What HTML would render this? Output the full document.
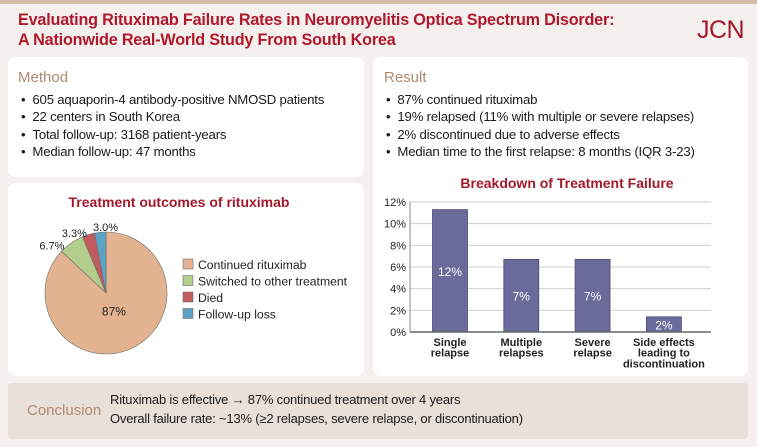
<!DOCTYPE html>
<html><head><meta charset="utf-8">
<style>
*{margin:0;padding:0;box-sizing:border-box}
body{width:757px;height:447px;overflow:hidden;background:#f5f0ed;font-family:"Liberation Sans",sans-serif;position:relative;color:#1a1a1a}
.abs{position:absolute}
.box{position:absolute;background:#fff;border-radius:8px}
.title{left:18px;top:11px;color:#b0182c;font-weight:bold;font-size:16.2px;line-height:19.5px;letter-spacing:-0.2px}
.hdr{color:#b08a6e;font-size:15px}
ul{list-style:none}
li{font-size:13.2px;line-height:17.4px;letter-spacing:-0.2px}
li:before{content:"•";margin-right:7px}
</style></head><body>
<div class="abs" style="left:0;top:0;width:757px;height:4px;background:#d6bba6"></div>
<div class="abs title">Evaluating Rituximab Failure Rates in Neuromyelitis Optica Spectrum Disorder:<br>A Nationwide Real-World Study From South Korea</div>
<div class="abs" style="left:697px;top:16px;color:#a3192b;font-size:25px;font-family:'Liberation Sans Narrow','Liberation Sans',sans-serif;letter-spacing:-0.5px">JCN</div>

<div class="box" style="left:8px;top:57px;width:356px;height:120px">
 <div class="abs hdr" style="left:10px;top:12px">Method</div>
 <ul class="abs" style="left:13px;top:34px">
  <li>605 aquaporin-4 antibody-positive NMOSD patients</li>
  <li>22 centers in South Korea</li>
  <li>Total follow-up: 3168 patient-years</li>
  <li>Median follow-up: 47 months</li>
 </ul>
</div>
<div class="box" style="left:373px;top:57px;width:375px;height:319px">
 <div class="abs hdr" style="left:11px;top:12px">Result</div>
 <ul class="abs" style="left:13px;top:34px">
  <li>87% continued rituximab</li>
  <li>19% relapsed (11% with multiple or severe relapses)</li>
  <li>2% discontinued due to adverse effects</li>
  <li>Median time to the first relapse: 8 months (IQR 3-23)</li>
 </ul>
</div>
<div class="box" style="left:8px;top:183px;width:356px;height:193px"></div>
<div class="abs" style="left:8px;top:383px;width:740px;height:56px;background:#eae0da;border-radius:4px">
 <div class="abs hdr" style="left:19px;top:19px">Conclusion</div>
 <div class="abs" style="left:102px;top:9px;font-size:13px;letter-spacing:-0.2px">Rituximab is effective → 87% continued treatment over 4 years</div>
 <div class="abs" style="left:102px;top:28px;font-size:13px;letter-spacing:-0.2px">Overall failure rate: ~13% (≥2 relapses, severe relapse, or discontinuation)</div>
</div>

<svg id="chart" class="abs" style="left:0;top:0" width="757" height="447" xmlns="http://www.w3.org/2000/svg" font-family="Liberation Sans, sans-serif"></svg>
<script>
const pieLabels=["Continued rituximab","Switched to other treatment","Died","Follow-up loss"];
const pieValues=[87,6.7,3.3,3.0];
const pieText=["87%","6.7%","3.3%","3.0%"];
const pieColors=["#e2b291","#b3cd8c","#c25b5d","#5da2c2"];
const barCats=[["Single","relapse"],["Multiple","relapses"],["Severe","relapse"],["Side effects","leading to","discontinuation"]];
const barValues=[11.3,6.7,6.7,1.4];
const barText=["12%","7%","7%","2%"];
const yTicks=[0,2,4,6,8,10,12];

const svg=document.getElementById('chart');
const NS="http://www.w3.org/2000/svg";
function mk(tag,a,parent){const e=document.createElementNS(NS,tag);for(const k in a)e.setAttribute(k,a[k]);(parent||svg).appendChild(e);return e;}

// label placement styles (radius and angular shift, degrees)
const lblRadius=[20,72,68,66];
const lblShift=[0,-14,-11,5];

let t=mk('text',{x:179,y:207,'text-anchor':'middle','font-size':14,'font-weight':'bold',fill:'#a3192b'});


t.textContent="Treatment outcomes of rituximab";
const cx=106,cy=293,r=61;
const total=pieValues.reduce((a,b)=>a+b,0);
let acc=0;
pieValues.forEach((v,i)=>{
 const a0=acc/total*2*Math.PI, a1=(acc+v)/total*2*Math.PI; acc+=v;
 const p=(a)=>[cx+r*Math.sin(a),cy-r*Math.cos(a)];
 const [x0,y0]=p(a0),[x1,y1]=p(a1);
 const s=mk('path',{d:`M${cx},${cy}L${x0},${y0}A${r},${r} 0 ${a1-a0>Math.PI?1:0} 1 ${x1},${y1}Z`,fill:pieColors[i],stroke:'#6e6e6e','stroke-width':0.6});
 
 
 const am=(a0+a1)/2+lblShift[i]*Math.PI/180, lr=lblRadius[i];
 const l=mk('text',{x:cx+lr*Math.sin(am),y:cy-lr*Math.cos(am)+4,'text-anchor':'middle','font-size':i===0?12:11,fill:'#222'});
 
 
 l.textContent=pieText[i];
 const ly=263+i*16.5;
 const sq=mk('rect',{x:183,y:ly-4,width:10,height:10,fill:pieColors[i],stroke:'#6e6e6e','stroke-width':0.6});
 
 
 const lt=mk('text',{x:198,y:ly+6,'font-size':12.2,fill:'#222'});
 
 
 lt.textContent=pieLabels[i];
});

// bar chart
t=mk('text',{x:567,y:188,'text-anchor':'middle','font-size':14,'font-weight':'bold',fill:'#a3192b'});


t.textContent="Breakdown of Treatment Failure";
const x0=410,x1=711,y0=332,yMax=12,yTop=202;
const Y=v=>y0-(v/yMax)*(y0-yTop);
const step=71.3,first=450,bw=35;
const X=i=>first+i*step;
yTicks.forEach(v=>{
 if(v>0){const g=mk('line',{x1:x0,x2:x1,y1:Y(v),y2:Y(v),stroke:'#cfcfcf','stroke-width':1});
 
 }
 const tl=mk('text',{x:406,y:Y(v)+4,'text-anchor':'end','font-size':11,fill:'#222'});
 
 
 tl.textContent=v+"%";
});
let ax=mk('line',{x1:x0,x2:x0,y1:yTop,y2:y0,stroke:'#888','stroke-width':1});


barValues.forEach((v,i)=>{
 const b=mk('rect',{x:X(i)-bw/2,y:Y(v),width:bw,height:y0-Y(v),fill:'#6a6a9b',stroke:'#4e4e78','stroke-width':0.8});
 
 
 const bl=mk('text',{x:X(i),y:(Y(v)+y0)/2+5,'text-anchor':'middle','font-size':12,fill:'#fff'});
 
 
 bl.textContent=barText[i];
 barCats[i].forEach((w,k)=>{
  const c=mk('text',{x:X(i),y:346+k*10.7,'text-anchor':'middle','font-size':11,'font-weight':'bold',fill:'#222'});
  
  
  c.textContent=w;
 });
});
ax=mk('line',{x1:x0,x2:x1,y1:y0,y2:y0,stroke:'#666','stroke-width':1.5});


</script>
</body></html>
